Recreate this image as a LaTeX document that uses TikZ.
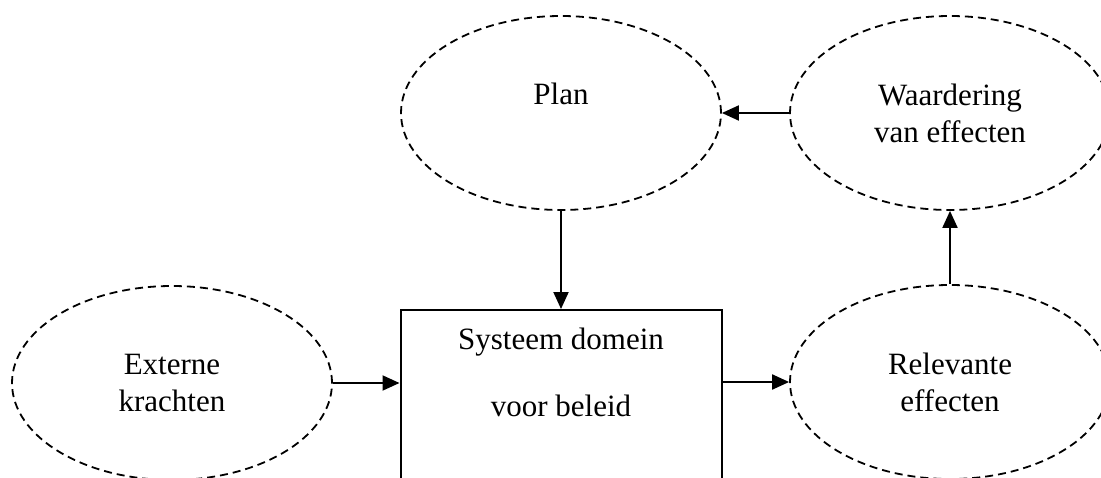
\documentclass[tikz,border=0pt]{standalone}
\usepackage{fontspec}
\setmainfont{Liberation Serif}
\usepackage{tikz}
\usetikzlibrary{arrows.meta}
\usetikzlibrary{shapes.geometric}
\tikzstyle{ell}=[draw, ellipse, dash pattern=on 4pt off 2.5pt, line width=0.9pt, minimum width=160pt, minimum height=97pt, inner sep=0pt, align=center]
\tikzstyle{sysbox}=[draw, rectangle, minimum width=160.5pt, inner sep=9pt, align=center, anchor=north, text depth=90pt]

\begin{document}
\begin{tikzpicture}[node distance=194.5pt,>={Triangle[length=8.5pt,width=7.5pt]},line width=1pt,font=\fontsize{15.5}{18.5}\selectfont]
\path[use as bounding box, clip] (0,0) rectangle (550.5pt,238.5pt);
\node [ell] (plan) at (280.5pt,182pt) {Plan\\[-5pt]\strut};
\node [ell] (waard) [right of=plan] {Waardering\\van effecten};
\node [ell] (rel) [below of=waard, node distance=134.5pt] {Relevante\\effecten};
\node [ell] (ext) at (86pt,47pt) {Externe\\krachten};
\node [sysbox] (sys) at (280.5pt,84pt) {Systeem domein\\[15pt]voor beleid};
\draw[->] (waard.west) -- (plan.east);
\draw[->] (plan.south) -- (sys.north);
\draw[->] (ext.east) -- (ext.east -| sys.west);
\draw[->] (sys.east |- rel.west) -- (rel.west);
\draw[->] (rel.north) -- (waard.south);
\end{tikzpicture}
\end{document}
